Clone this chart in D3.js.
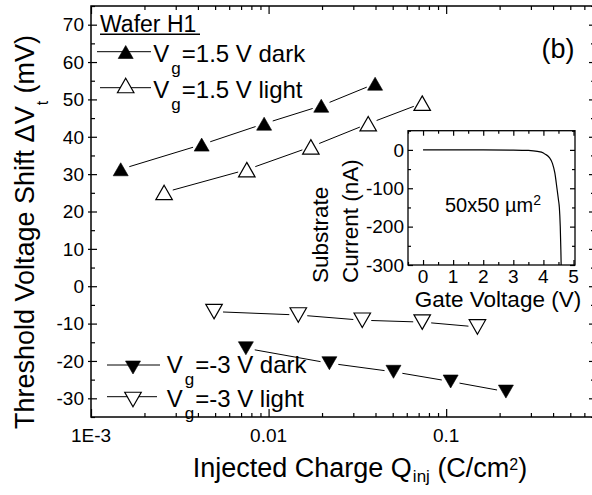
<!DOCTYPE html>
<html>
<head>
<meta charset="utf-8">
<script src="https://cdn.jsdelivr.net/npm/d3@7"></script>
<style>
  body { margin: 0; background: #fff; }
  text { font-family: Arial, "Liberation Sans", Helvetica, sans-serif; fill: #000; }
</style>
</head>
<body>
<svg id="chart" width="592" height="495"></svg>
<script>
// ---- main plot data: threshold voltage shift vs injected charge ----
const qDark15   = [0.00147, 0.0042, 0.00944, 0.0198, 0.0398];
const dvDark15  = [31.3, 37.9, 43.5, 48.3, 54.2];
const qLight15  = [0.00258, 0.00754, 0.0173, 0.0364, 0.0733];
const dvLight15 = [25.1, 31.2, 37.3, 43.5, 49.0];
const qDarkM3   = [0.00745, 0.022, 0.0505, 0.106, 0.217];
const dvDarkM3  = [-16.6, -20.6, -22.9, -25.5, -28.2];
const qLightM3  = [0.00493, 0.0147, 0.0337, 0.0733, 0.150];
const dvLightM3 = [-6.8, -7.7, -9.1, -9.6, -10.9];

// ---- inset data: substrate current vs gate voltage ----
const gateVoltage      = [0, 1, 2, 3, 3.5, 3.8, 4.0, 4.05, 4.1, 4.2, 4.3, 4.38, 4.45, 4.5, 4.53, 4.56, 4.58, 4.59];
const substrateCurrent = [0, 0, 0, -0.5, -1.5, -4, -8, -11, -13, -20, -35, -60, -100, -130, -150, -200, -260, -300];

// ---- tick labels ----
const xTickValues = [0.001, 0.01, 0.1];
const xTickLabels = ["1E-3", "0.01", "0.1"];
const yTickValues = [-30, -20, -10, 0, 10, 20, 30, 40, 50, 60, 70];
const insetXTicks = [0, 1, 2, 3, 4, 5];
const insetYTicks = [-300, -200, -100, 0];

const svg = d3.select("#chart");
svg.append("rect").attr("width", 592).attr("height", 495).attr("fill", "#fff");

// ---- scales ----
const L = 91, R = 594, T = 6, B = 417;
const x = d3.scaleLog().domain([0.001, 0.68]).range([L, R]);
const y = d3.scaleLinear().domain([-35, 75]).range([B, T]);

// log minor ticks (2..9 of each decade)
const xMinor = [];
[0.001, 0.01, 0.1].forEach(d => { for (let k = 2; k <= 9; k++) { const v = d * k; if (v <= 0.68) xMinor.push(v); } });
const yMinor = d3.range(-35, 76, 5).filter(v => v % 10 !== 0);

function tickGroup(axisFn, scale, values, size, tx, ty) {
  const g = svg.append("g").attr("transform", `translate(${tx},${ty})`)
    .call(axisFn(scale).tickValues(values).tickSizeInner(size).tickSizeOuter(0).tickFormat(""));
  g.select(".domain").remove();
  g.selectAll("line").attr("stroke", "#000").attr("stroke-width", 1.2);
  return g;
}

// main frame ticks (inward on bottom, top, right; crossing on left)
tickGroup(d3.axisBottom, x, xTickValues, -8, 0, B);
tickGroup(d3.axisBottom, x, xMinor, -4, 0, B);
tickGroup(d3.axisTop, x, xTickValues, -8, 0, T);
tickGroup(d3.axisTop, x, xMinor, -4, 0, T);
tickGroup(d3.axisLeft, y, yTickValues, -6, L, 0);
tickGroup(d3.axisLeft, y, yTickValues, 3, L, 0);
tickGroup(d3.axisLeft, y, yMinor, -4, L, 0);
tickGroup(d3.axisRight, y, yTickValues, -5, R, 0);
tickGroup(d3.axisRight, y, yMinor, -3, R, 0);

svg.append("rect").attr("x", L).attr("y", T).attr("width", R - L).attr("height", B - T)
  .attr("fill", "none").attr("stroke", "#000").attr("stroke-width", 1.5);

// tick labels
svg.append("g").selectAll("text").data(yTickValues).join("text")
  .attr("x", 84).attr("y", d => y(d) + 6.8).attr("text-anchor", "end")
  .attr("font-size", 19).text(d => d);
svg.append("g").selectAll("text").data(xTickValues).join("text")
  .attr("x", d => x(d)).attr("y", 441.5).attr("text-anchor", "middle")
  .attr("font-size", 19).text((d, i) => xTickLabels[i]);

// axis titles
const xt = svg.append("text").attr("x", 360).attr("y", 476.5).attr("text-anchor", "middle").attr("font-size", 27);
xt.append("tspan").text("Injected Charge Q");
xt.append("tspan").attr("font-size", 17).attr("dy", 5).attr("dx", 1).text("inj");
xt.append("tspan").attr("dy", -5).text(" (C/cm");
xt.append("tspan").attr("font-size", 16).attr("dy", -7).text("2");
xt.append("tspan").attr("dy", 7).text(")");

const yt = svg.append("text").attr("transform", "translate(33.5,232) rotate(-90)")
  .attr("text-anchor", "middle").attr("font-size", 27);
yt.append("tspan").text("Threshold Voltage Shift \u0394V");
yt.append("tspan").attr("font-size", 16).attr("dy", 14).attr("dx", 1).text("t");
yt.append("tspan").attr("dy", -14).text(" (mV)");

// ---- markers ----
function triPath(dir, w, h) {
  const s = dir === "up" ? 1 : -1;
  return `M0,${-s * h / 2}L${w / 2},${s * h / 2}L${-w / 2},${s * h / 2}Z`;
}
function marker(g, cx, cy, dir, filled) {
  g.append("path")
    .attr("transform", `translate(${cx},${cy})`)
    .attr("d", filled ? triPath(dir, 15, 13) : triPath(dir, 16.5, 14.5))
    .attr("fill", filled ? "#000" : "#fff")
    .attr("stroke", "#000").attr("stroke-width", filled ? 0.6 : 1.2)
    .attr("stroke-linejoin", "miter");
}
function series(qs, vs, dir, filled) {
  const g = svg.append("g");
  const pts = qs.map((q, i) => [x(q), y(vs[i])]);
  const gap = 9;
  for (let i = 0; i < pts.length - 1; i++) {
    const [x1, y1] = pts[i], [x2, y2] = pts[i + 1];
    const d = Math.hypot(x2 - x1, y2 - y1), ux = (x2 - x1) / d, uy = (y2 - y1) / d;
    g.append("line")
      .attr("x1", x1 + ux * gap).attr("y1", y1 + uy * gap)
      .attr("x2", x2 - ux * gap).attr("y2", y2 - uy * gap)
      .attr("stroke", "#000").attr("stroke-width", 1);
  }
  pts.forEach(([px, py]) => marker(g, px, py, dir, filled));
}
series(qDark15, dvDark15, "up", true);
series(qLight15, dvLight15, "up", false);
series(qLightM3, dvLightM3, "down", false);
series(qDarkM3, dvDarkM3, "down", true);

// ---- legends ----
const wafer = svg.append("text").attr("x", 100).attr("y", 31.5).attr("font-size", 23).text("Wafer H1");
svg.append("line").attr("x1", 100).attr("x2", 200).attr("y1", 34.3).attr("y2", 34.3)
  .attr("stroke", "#000").attr("stroke-width", 1.6);

function legendRow(lx1, lx2, ly, mx, my, dir, filled, tx, ty, rest) {
  const g = svg.append("g");
  g.append("line").attr("x1", lx1).attr("x2", lx2).attr("y1", ly).attr("y2", ly)
    .attr("stroke", "#000").attr("stroke-width", 1);
  marker(g, mx, my, dir, filled);
  const t = g.append("text").attr("x", tx).attr("y", ty).attr("font-size", 24);
  t.append("tspan").text("V");
  t.append("tspan").attr("font-size", 17).attr("dx", 2).attr("dy", 12).text("g");
  t.append("tspan").attr("dy", -12).attr("dx", 1).text(rest);
}
legendRow(97, 151, 51.7, 125.7, 52, "up", true, 153.3, 61.7, "=1.5 V dark");
legendRow(100, 151, 87.7, 125.7, 85.5, "up", false, 153.3, 98.3, "=1.5 V light");
legendRow(107, 160, 365, 133, 367.5, "down", true, 166.7, 372.7, "=-3 V dark");
legendRow(107, 157, 396.7, 133, 399.5, "down", false, 166.7, 406.7, "=-3 V light");

svg.append("text").attr("x", 541.5).attr("y", 57.5).attr("font-size", 27).text("(b)");

// ---- inset ----
const iL = 408, iR = 575, iT = 130.7, iB = 265;
const xi = d3.scaleLinear().domain([-0.5, 5.05]).range([iL, iR]);
const yi = d3.scaleLinear().domain([-300, 50]).range([iB, iT]);
svg.append("rect").attr("x", iL).attr("y", iT).attr("width", iR - iL).attr("height", iB - iT).attr("fill", "#fff");

const xiMinor = d3.range(-0.5, 5.01, 0.5).filter(v => Math.abs(v % 1) > 0.1);
const yiMinor = [-250, -150, -50, 50];
tickGroup(d3.axisBottom, xi, insetXTicks, -5, 0, iB);
tickGroup(d3.axisBottom, xi, xiMinor, -3, 0, iB);
tickGroup(d3.axisTop, xi, insetXTicks, -5, 0, iT);
tickGroup(d3.axisTop, xi, xiMinor, -3, 0, iT);
tickGroup(d3.axisLeft, yi, insetYTicks, -5, iL, 0);
tickGroup(d3.axisLeft, yi, yiMinor, -3, iL, 0);
tickGroup(d3.axisRight, yi, insetYTicks, -5, iR, 0);
tickGroup(d3.axisRight, yi, yiMinor, -3, iR, 0);
svg.append("rect").attr("x", iL).attr("y", iT).attr("width", iR - iL).attr("height", iB - iT)
  .attr("fill", "none").attr("stroke", "#000").attr("stroke-width", 1.3);

svg.append("path")
  .datum(gateVoltage.map((v, i) => [v, substrateCurrent[i]]))
  .attr("d", d3.line().x(d => xi(d[0])).y(d => yi(d[1])).curve(d3.curveMonotoneX))
  .attr("fill", "none").attr("stroke", "#000").attr("stroke-width", 1.2);

svg.append("g").selectAll("text").data(insetYTicks).join("text")
  .attr("x", 404).attr("y", d => yi(d) + 6.8).attr("text-anchor", "end")
  .attr("font-size", 19).text(d => d);
svg.append("g").selectAll("text").data(insetXTicks).join("text")
  .attr("x", d => xi(d)).attr("y", 283.3).attr("text-anchor", "middle")
  .attr("font-size", 19).text(d => d);

svg.append("text").attr("x", 498).attr("y", 307).attr("text-anchor", "middle")
  .attr("font-size", 22.5).text("Gate Voltage (V)");
svg.append("text").attr("transform", "translate(328,283) rotate(-90)")
  .attr("font-size", 22.5).text("Substrate");
svg.append("text").attr("transform", "translate(357.5,283) rotate(-90)")
  .attr("font-size", 22.5).text("Current (nA)");

const area = svg.append("text").attr("x", 445).attr("y", 212).attr("font-size", 20);
area.append("tspan").text("50x50 \u00b5m");
area.append("tspan").attr("font-size", 14).attr("dy", -7).text("2");
</script>
</body>
</html>
